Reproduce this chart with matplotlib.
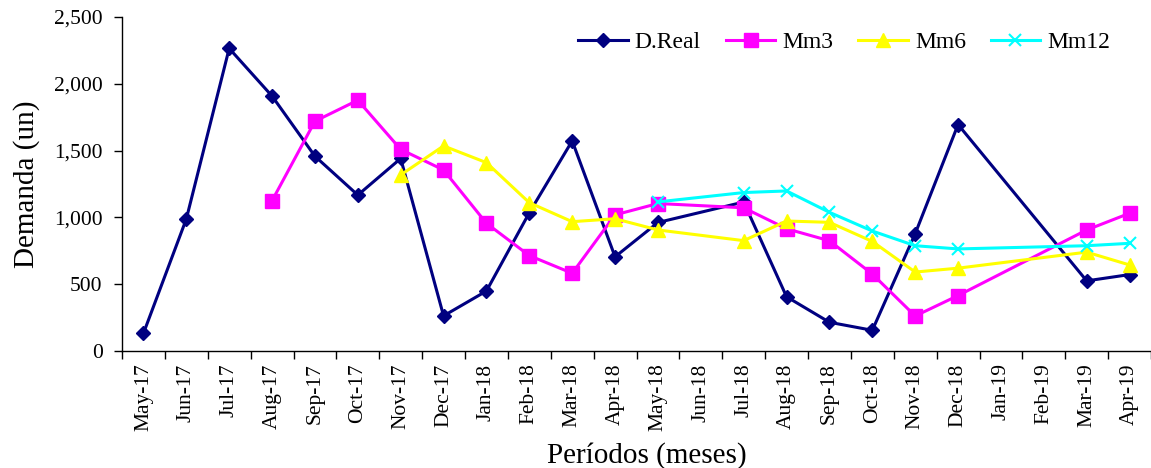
import numpy as np
import matplotlib
matplotlib.use('Agg')
import matplotlib.pyplot as plt
from matplotlib.ticker import StrMethodFormatter, FixedLocator

plt.rcParams['font.family'] = ['Liberation Serif', 'DejaVu Serif']

periods = ['May-17', 'Jun-17', 'Jul-17', 'Aug-17', 'Sep-17', 'Oct-17', 'Nov-17',
           'Dec-17', 'Jan-18', 'Feb-18', 'Mar-18', 'Apr-18', 'May-18', 'Jun-18',
           'Jul-18', 'Aug-18', 'Sep-18', 'Oct-18', 'Nov-18', 'Dec-18', 'Jan-19',
           'Feb-19', 'Mar-19', 'Apr-19']

# demand and moving averages (None = no value for that month)
d_real = [132, 988, 2265, 1908, 1458, 1167, 1441, 263, 449, 1035, 1573, 705,
          962, None, 1115, 406, 215, 155, 878, 1695, None, None, 525, 572]
mm3 = [None, None, None, 1125, 1720, 1877, 1509, 1355, 956, 714, 582, 1019,
       1104, None, 1072, 915, 825, 576, 262, 415, None, None, 906, 1031]
mm6 = [None, None, None, None, None, None, 1318, 1535, 1410, 1110, 968, 990,
       906, None, 826, 973, 963, 820, 591, 620, None, None, 740, 644]
mm12 = [None, None, None, None, None, None, None, None, None, None, None, None,
        1116, None, 1186, 1198, 1038, 898, 788, 764, None, None, 788, 806]

series = [
    ('D.Real', d_real, '#000080', 'D', 7),
    ('Mm3', mm3, '#FF00FF', 's', 10),
    ('Mm6', mm6, '#FFFF00', '^', 10),
    ('Mm12', mm12, '#00FFFF', 'x', 9),
]

fig = plt.figure(figsize=(11.51, 4.68), dpi=100)
ax = fig.add_axes([122 / 1151, 1 - 351 / 468, 1 - 122 / 1151, (351 - 17) / 468])

for name, vals, color, marker, ms in series:
    # skip empty months so the line joins across them
    xs = [i for i, v in enumerate(vals) if v is not None]
    ys = [v for v in vals if v is not None]
    ax.plot(xs, ys, color=color, marker=marker, markersize=ms, linewidth=2.2,
            markeredgewidth=1.5 if marker == 'x' else 1, label=name)

ax.set_xlim(-0.5, len(periods) - 0.5)
ax.set_ylim(0, 2500)
ax.set_yticks(np.arange(0, 2501, 500))
ax.yaxis.set_major_formatter(StrMethodFormatter('{x:,.0f}'))

ax.set_xticks(range(len(periods)))
ax.set_xticklabels(periods, rotation=90, fontsize=15.5)
ax.xaxis.set_minor_locator(FixedLocator(np.arange(-0.5, len(periods), 1)))
ax.tick_params(axis='x', which='major', length=0, pad=9)
ax.tick_params(axis='x', which='minor', length=6, width=1, direction='out')
ax.tick_params(axis='y', labelsize=15.5, length=6, width=1, direction='out', pad=8)

for side in ('top', 'right'):
    ax.spines[side].set_visible(False)
ax.spines['left'].set_linewidth(1)
ax.spines['bottom'].set_linewidth(1)

ax.set_ylabel('Demanda (un)', fontsize=21, labelpad=10)
ax.set_xlabel('Períodos (meses)', fontsize=21)
ax.xaxis.set_label_coords(0.51, -0.272)

ax.legend(loc='upper right', bbox_to_anchor=(0.981, 1.02), ncol=4, frameon=False,
          fontsize=17, handlelength=2.1, columnspacing=1.05, handletextpad=0.3)

plt.savefig('out.png', dpi=100, facecolor='white')
plt.close()
